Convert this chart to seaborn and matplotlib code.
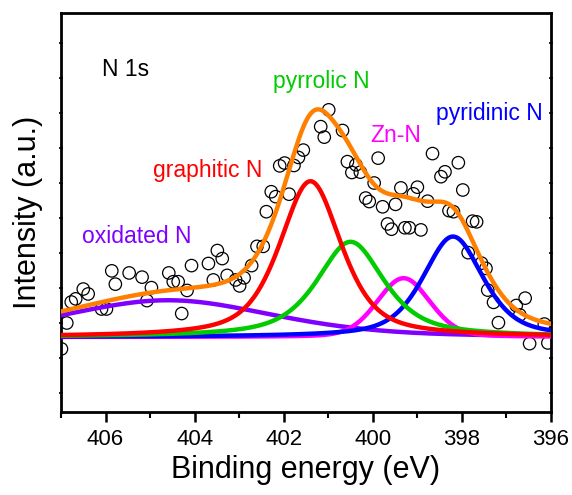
import numpy as np
import pandas as pd
import matplotlib
matplotlib.use("Agg")
import matplotlib.pyplot as plt
import seaborn as sns
from matplotlib.ticker import MultipleLocator, NullFormatter

# measured points (binding energy in eV, intensity in a.u.)
be_data = [406.99, 406.87, 406.77, 406.67, 406.50, 406.39, 406.09, 405.98, 405.86, 405.78,
           405.47, 405.18, 404.97, 405.07, 404.58, 404.48, 404.37, 404.17, 404.29, 404.07,
           403.69, 403.49, 403.38, 403.58, 403.27, 403.08, 402.99, 402.89, 402.72, 402.60,
           402.46, 402.39, 402.28, 402.18, 401.88, 402.09, 401.98, 401.77, 401.67, 401.56,
           400.99, 401.17, 401.09, 400.68, 400.57, 400.47, 400.38, 400.28, 399.88, 399.97,
           400.16, 400.08, 399.78, 399.49, 399.37, 399.09, 399.00, 398.77, 399.67, 399.58,
           399.28, 399.18, 398.92, 398.66, 398.38, 398.47, 398.08, 397.98, 398.29, 398.19,
           397.76, 397.67, 397.86, 397.56, 397.46, 397.42, 397.29, 397.18, 396.78, 396.58,
           396.70, 396.48, 396.15, 396.07]
int_data = [1.26, 2.00, 2.60, 2.69, 2.97, 2.83, 2.40, 2.40, 3.49, 3.11,
            3.43, 3.31, 3.01, 2.64, 3.43, 3.18, 3.18, 2.93, 2.27, 3.64,
            3.70, 4.07, 3.84, 3.23, 3.36, 3.23, 3.06, 3.29, 3.64, 4.19,
            4.19, 5.18, 5.75, 5.61, 5.68, 6.49, 6.57, 6.50, 6.73, 6.94,
            8.09, 7.61, 7.31, 7.50, 6.61, 6.30, 6.52, 6.31, 6.71, 6.00,
            5.57, 5.47, 5.32, 5.39, 5.86, 5.69, 5.88, 5.48, 4.83, 4.68,
            4.72, 4.72, 4.66, 6.84, 6.32, 6.18, 6.58, 5.80, 5.21, 5.18,
            4.91, 4.89, 4.01, 3.71, 3.56, 2.94, 2.59, 2.01, 2.50, 2.71,
            2.23, 1.41, 1.97, 1.43]

# fitted components (pseudo-Voigt peaks on a flat background)
peak_names = ["oxidated N", "Zn-N", "pyridinic N", "pyrrolic N", "graphitic N"]
peak_centers = [404.60, 399.31, 398.20, 400.50, 401.40]
peak_heights = [1.05, 1.68, 2.87, 2.72, 4.45]
peak_fwhm = [5.6, 1.4, 1.6, 1.8, 1.65]
peak_eta = [0.35, 0.2, 0.55, 0.7, 0.6]
background = 1.6

colors = {"oxidated N": "#8000FF", "Zn-N": "#FF00FF", "pyridinic N": "#0000FF",
          "pyrrolic N": "#00CC00", "graphitic N": "#FF0000", "envelope": "#FF8000"}


def pseudo_voigt(x, c, h, w, eta):
    d = (x - c) / w
    lor = 1.0 / (1.0 + 4.0 * d ** 2)
    gau = np.exp(-4.0 * np.log(2) * d ** 2)
    return h * (eta * lor + (1 - eta) * gau)


x = np.linspace(396, 407, 600)
rows = []
total = np.zeros_like(x)
for name, c, h, w, eta in zip(peak_names, peak_centers, peak_heights, peak_fwhm, peak_eta):
    y = pseudo_voigt(x, c, h, w, eta)
    total += y
    rows.append(pd.DataFrame({"be": x, "intensity": y + background, "peak": name}))
rows.append(pd.DataFrame({"be": x, "intensity": total + background, "peak": "envelope"}))
fit = pd.concat(rows, ignore_index=True)
pts = pd.DataFrame({"be": be_data, "intensity": int_data})

sns.set_style("ticks")
plt.rcParams["font.family"] = ["Liberation Sans", "DejaVu Sans"]
plt.rcParams["text.color"] = "black"
plt.rcParams["axes.labelcolor"] = "black"
plt.rcParams["xtick.color"] = "black"
plt.rcParams["ytick.color"] = "black"

fig = plt.figure(figsize=(5.72, 4.95), dpi=100)
ax = fig.add_axes([61 / 572, 1 - 412 / 495, 490 / 572, 399 / 495])

sns.scatterplot(data=pts, x="be", y="intensity", ax=ax, s=80, marker="o",
                facecolor="none", edgecolor="black", linewidth=0.9, zorder=2)
for name in peak_names + ["envelope"]:
    sub = fit[fit["peak"] == name]
    sns.lineplot(data=sub, x="be", y="intensity", ax=ax, color=colors[name],
                 linewidth=3.2, legend=False, zorder=3)

ax.set_xlim(407, 396)
ax.set_ylim(-0.543, 10.857)
ax.xaxis.set_major_locator(MultipleLocator(2))
ax.xaxis.set_minor_locator(MultipleLocator(1))
ax.yaxis.set_major_locator(MultipleLocator(1))
ax.yaxis.set_major_formatter(NullFormatter())
ax.tick_params(axis="x", which="major", direction="out", length=7, width=1.8,
               labelsize=16, pad=5, top=False, colors="black")
ax.tick_params(axis="x", which="minor", direction="out", length=4, width=1.5, top=False)
ax.tick_params(axis="y", which="major", direction="inout", length=3, width=1.2,
               left=True, right=True)
for sp in ax.spines.values():
    sp.set_linewidth(2)
    sp.set_color("black")

ax.set_xlabel("Binding energy (eV)", fontsize=22, labelpad=4, color="black")
ax.set_ylabel("Intensity (a.u.)", fontsize=22, labelpad=8, color="black")

txt = dict(fontsize=16.5, ha="left", va="baseline")
ax.text(406.07, 9.06, "N 1s", color="black", **txt)
ax.text(402.23, 8.71, "pyrrolic N", color=colors["pyrrolic N"], **txt)
ax.text(398.59, 7.80, "pyridinic N", color=colors["pyridinic N"], **txt)
ax.text(400.05, 7.17, "Zn-N", color=colors["Zn-N"], **txt)
ax.text(404.93, 6.17, "graphitic N", color=colors["graphitic N"], **txt)
ax.text(406.52, 4.29, "oxidated N", color=colors["oxidated N"], **txt)

fig.savefig("out.png", dpi=100)
